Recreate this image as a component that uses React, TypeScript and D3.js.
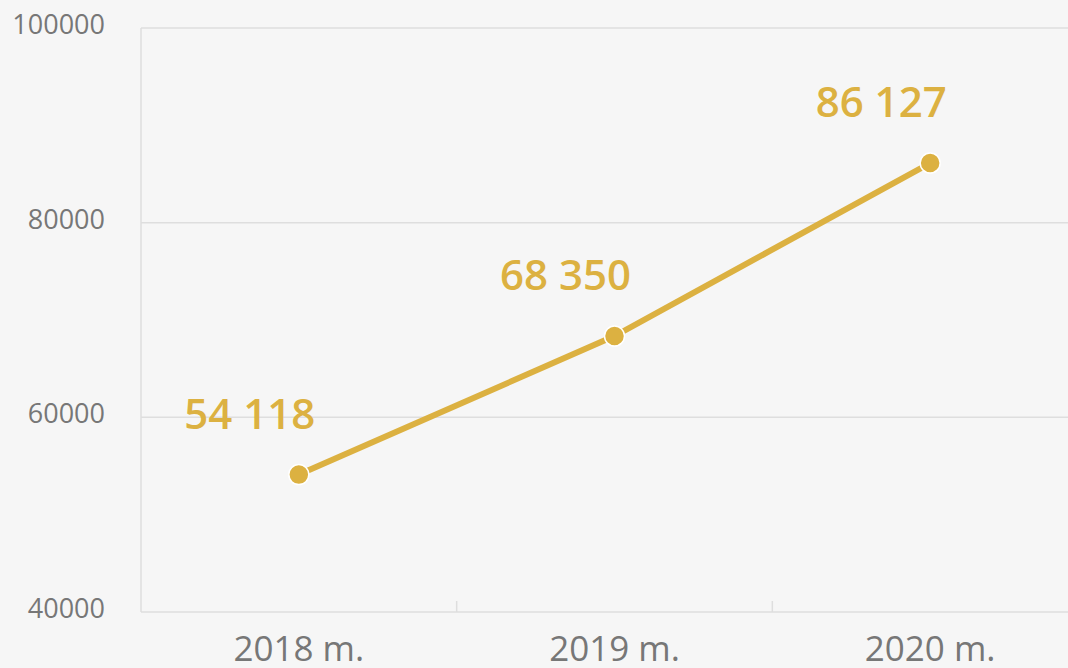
import React, { useRef, useEffect } from 'react';
import * as d3 from 'd3';

const years = ['2018 m.', '2019 m.', '2020 m.'];
const values = [54118, 68350, 86127];
const valueLabels = ['54 118', '68 350', '86 127'];
const yTicks = [40000, 60000, 80000, 100000];

function LineChart() {
    const ref = useRef<SVGSVGElement>(null);
    useEffect(() => {
        const svg = d3.select(ref.current);
        svg.selectAll('*').remove();

        const width = 1068, height = 668;
        const left = 141, top = 28, bottom = 612, right = 1088;
        const gold = '#dcb141';
        const font = "'Open Sans', sans-serif";

        svg.append('rect').attr('width', width).attr('height', height).attr('fill', '#f6f6f6');

        const x = d3.scaleBand().domain(years).range([left, right]);
        const y = d3.scaleLinear().domain([40000, 100000]).range([bottom, top]);

        // horizontal gridlines + y labels
        const g = svg.append('g');
        g.selectAll('.grid')
            .data(yTicks)
            .enter().append('line')
            .attr('x1', left).attr('x2', right)
            .attr('y1', d => y(d)).attr('y2', d => y(d))
            .attr('stroke', '#dedede').attr('stroke-width', 1.5);

        g.selectAll('.ylab')
            .data(yTicks)
            .enter().append('text')
            .attr('x', 105)
            .attr('y', d => y(d) + 6)
            .attr('text-anchor', 'end')
            .attr('font-family', font)
            .attr('font-size', 27)
            .attr('fill', '#777')
            .text(d => d);

        // left axis line
        g.append('line')
            .attr('x1', left).attr('x2', left)
            .attr('y1', top).attr('y2', bottom)
            .attr('stroke', '#dedede').attr('stroke-width', 1.5);

        // band ticks between categories
        g.selectAll('.xtick')
            .data(years.slice(1))
            .enter().append('line')
            .attr('x1', d => x(d)!).attr('x2', d => x(d)!)
            .attr('y1', bottom - 11).attr('y2', bottom)
            .attr('stroke', '#dedede').attr('stroke-width', 1.5);

        g.selectAll('.xlab')
            .data(years)
            .enter().append('text')
            .attr('x', d => x(d)! + x.bandwidth() / 2)
            .attr('y', 661)
            .attr('text-anchor', 'middle')
            .attr('font-family', font)
            .attr('font-size', 35)
            .attr('fill', '#777')
            .text(d => d);

        const cx = (i: number) => x(years[i])! + x.bandwidth() / 2;

        const line = d3.line<number>()
            .x((d, i) => cx(i))
            .y(d => y(d));

        svg.append('path')
            .datum(values)
            .attr('d', line)
            .attr('fill', 'none')
            .attr('stroke', gold)
            .attr('stroke-width', 6);

        svg.selectAll('.dot')
            .data(values)
            .enter().append('circle')
            .attr('cx', (d, i) => cx(i))
            .attr('cy', d => y(d))
            .attr('r', 10)
            .attr('fill', gold)
            .attr('stroke', '#fff')
            .attr('stroke-width', 1.5);

        svg.selectAll('.vlab')
            .data(values)
            .enter().append('text')
            .attr('x', (d, i) => cx(i) - 49)
            .attr('y', d => y(d) - 46)
            .attr('text-anchor', 'middle')
            .attr('font-family', font)
            .attr('font-size', 42)
            .attr('font-weight', 600)
            .attr('fill', gold)
            .text((d, i) => valueLabels[i]);
    }, []);
    return (
        <svg ref={ref} width="1068" height="668" style={{ position: 'fixed', left: 0, top: 0 }}></svg>
    );
}

export default function App() {
    return <LineChart />;
}
